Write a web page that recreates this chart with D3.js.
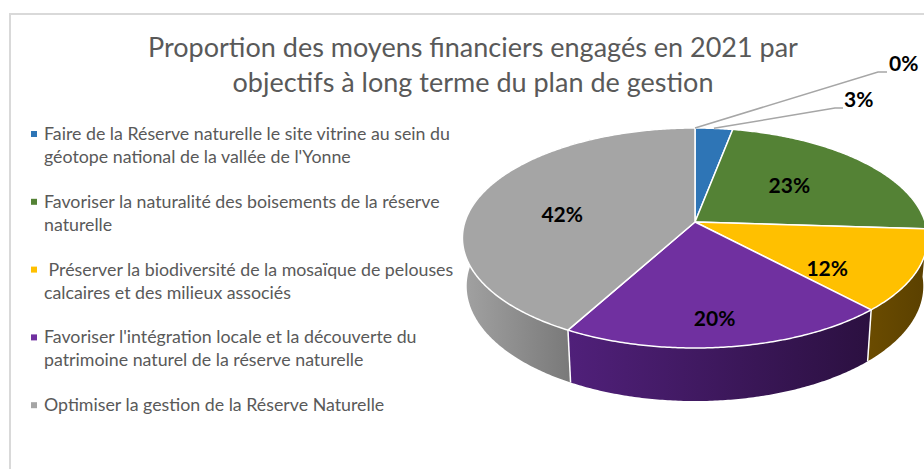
<!DOCTYPE html>
<html>
<head>
<meta charset="utf-8">
<script src="https://cdn.jsdelivr.net/npm/d3@7/dist/d3.min.js"></script>
<style>
  html, body { margin: 0; padding: 0; background: #fff; }
  svg { display: block; }
  text { font-family: Lato, "Open Sans", sans-serif; }
</style>
</head>
<body>
<svg id="chart" width="924" height="469"></svg>
<script>
// ---------- data ----------
const titleLines = [
  "Proportion des moyens financiers engagés en 2021 par",
  "objectifs à long terme du plan de gestion"
];
// first category has no legend entry (0 %)
const categories = [
  "",
  "Faire de la Réserve naturelle le site vitrine au sein du|géotope national de la vallée de l'Yonne",
  "Favoriser la naturalité des boisements de la réserve|naturelle",
  " Préserver la biodiversité de la mosaïque de pelouses|calcaires et des milieux associés",
  "Favoriser l'intégration locale et la découverte du|patrimoine naturel de la réserve naturelle",
  "Optimiser la gestion de la Réserve Naturelle"
];
const values = [0, 3, 23, 12, 20, 42];
const valueLabels = ["0%", "3%", "23%", "12%", "20%", "42%"];

// ---------- styles ----------
const topColors  = ["#4472c4", "#2e75b6", "#548235", "#ffc000", "#7030a0", "#a5a5a5"];
const sideLight  = ["#2a4a80", "#1d4a73", "#354f21", "#6a4b00", "#50207a", "#a2a2a2"];
const sideDark   = ["#1f3a66", "#153655", "#283c19", "#5a4000", "#2b1040", "#7a7a7a"];

// ---------- layout ----------
const W = 924, H = 469;
const svg = d3.select("#chart");

svg.append("rect").attr("x", 10).attr("y", 14).attr("width", W + 10).attr("height", H)
  .attr("fill", "#fff").attr("stroke", "#d9d9d9").attr("stroke-width", 2);

// title
svg.append("g").selectAll("text").data(titleLines).join("text")
  .attr("x", 473).attr("y", (d, i) => 57 + i * 35)
  .attr("text-anchor", "middle")
  .attr("fill", "#595959").attr("font-size", 27)
  .text(d => d);

// legend
const legendItems = categories.map((c, i) => ({ name: c, i })).filter(d => d.name !== "");
const lg = svg.append("g");
legendItems.forEach((d, k) => {
  const y0 = 140 + k * 67.8;
  lg.append("rect").attr("x", 31).attr("y", y0 - 9).attr("width", 6).attr("height", 6)
    .attr("fill", topColors[d.i]);
  const t = lg.append("text").attr("fill", "#595959").attr("font-size", 17.8)
    .attr("xml:space", "preserve").style("white-space", "pre");
  d.name.split("|").forEach((line, j) => {
    t.append("tspan").attr("x", 44).attr("y", y0 + j * 23).text(line);
  });
});

// ---------- 3D pie projection ----------
const cam = { cx: 695, cy: 222, f: 1399, D: 6.08, s: 0.468, c: 0.884, h: 0.239 };
function proj(t, yw, r) {
  const x = r * Math.sin(t), z = -r * Math.cos(t);
  const Y = yw * cam.c - z * cam.s;
  const Zd = cam.D - (z * cam.c + yw * cam.s);
  return [cam.cx + cam.f * x / Zd, cam.cy - cam.f * Y / Zd];
}
function arcPts(a0, a1, yw, r) {
  const n = Math.max(2, Math.ceil(Math.abs(a1 - a0) / 0.01));
  return d3.range(n + 1).map(k => proj(a0 + (a1 - a0) * k / n, yw, r));
}
const line = d3.line();
const arcs = d3.pie().sort(null).value(d => d)(values);

const defs = svg.append("defs");
const pieG = svg.append("g");

// side walls (only front-facing part matters)
const zVis = cam.c / cam.D;
arcs.forEach((a, i) => {
  if (a.endAngle - a.startAngle <= 0) return;
  const top = arcPts(a.startAngle, a.endAngle, 0, 1);
  const bot = arcPts(a.endAngle, a.startAngle, -cam.h, 1);
  const vis = d3.range(0, 201).map(k => a.startAngle + (a.endAngle - a.startAngle) * k / 200)
    .filter(t => -Math.cos(t) > zVis - 0.02).map(t => proj(t, 0, 1)[0]);
  if (!vis.length) return;
  const gid = "side" + i;
  const gr = defs.append("linearGradient").attr("id", gid)
    .attr("gradientUnits", "userSpaceOnUse")
    .attr("x1", d3.min(vis)).attr("x2", d3.max(vis)).attr("y1", 0).attr("y2", 0);
  gr.append("stop").attr("offset", 0).attr("stop-color", sideLight[i]);
  gr.append("stop").attr("offset", 1).attr("stop-color", sideDark[i]);
  pieG.append("path").attr("d", line(top.concat(bot)) + "Z")
    .attr("fill", `url(#${gid})`);
});
// white edges between slices on the wall
arcs.forEach(a => {
  const t = a.startAngle;
  if (-Math.cos(t) > zVis) {
    pieG.append("path").attr("d", line([proj(t, 0, 1), proj(t, -cam.h, 1)]))
      .attr("stroke", "#fff").attr("stroke-width", 1.5).attr("fill", "none");
  }
});
// top faces
arcs.forEach((a, i) => {
  if (a.endAngle - a.startAngle <= 0) return;
  const pts = [proj(0, 0, 0)].concat(arcPts(a.startAngle, a.endAngle, 0, 1));
  pieG.append("path").attr("d", line(pts) + "Z")
    .attr("fill", topColors[i]).attr("stroke", "#fff").attr("stroke-width", 1.5)
    .attr("stroke-linejoin", "round");
});

// ---------- data labels ----------
// inside labels: radial fraction and angle shift (radians) per slice
const insideLabel = { 2: [0.57, -0.05], 3: [0.67, 0.19], 4: [0.79, 0.03], 5: [0.59, -0.11] };
const labG = svg.append("g").attr("font-weight", "bold").attr("font-size", 21).attr("fill", "#000");
arcs.forEach((a, i) => {
  const mid = (a.startAngle + a.endAngle) / 2;
  if (insideLabel[i]) {
    const [r, dt] = insideLabel[i];
    const p = proj(mid + dt, 0, r);
    labG.append("text").attr("x", p[0]).attr("y", p[1]).attr("text-anchor", "middle")
      .attr("dominant-baseline", "central").text(valueLabels[i]);
  }
});
// outside labels with leader lines
const outside = { 0: [[878, 72], [887, 72], [889, 72]], 1: [[835, 108], [843, 108], [844, 108]] };
Object.keys(outside).forEach(k => {
  const i = +k, a = arcs[i];
  const mid = (a.startAngle + a.endAngle) / 2;
  const [e1, e2, tp] = outside[k];
  svg.append("path").attr("d", line([proj(mid, 0, 1), e1, e2]))
    .attr("fill", "none").attr("stroke", "#a6a6a6").attr("stroke-width", 1.5);
  labG.append("text").attr("x", tp[0]).attr("y", tp[1] - 1).text(valueLabels[i]);
});
</script>
</body>
</html>
